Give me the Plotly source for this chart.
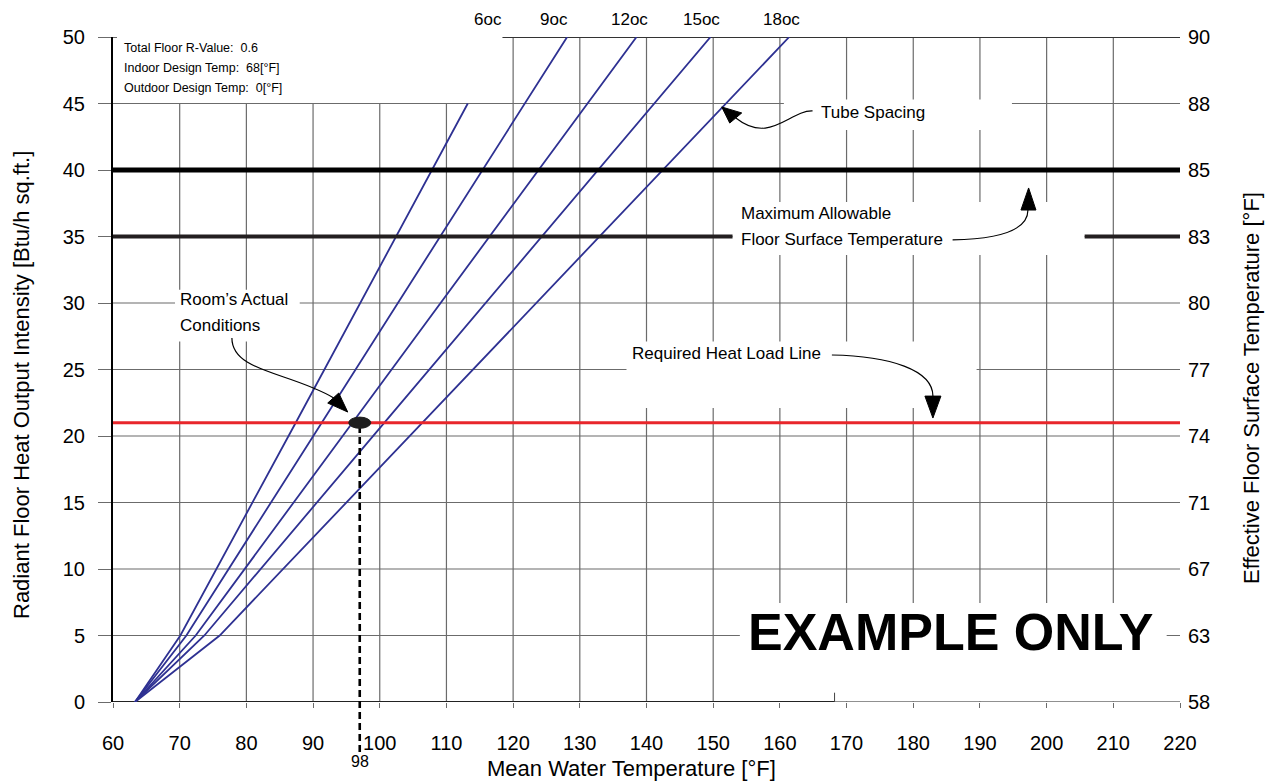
import plotly.graph_objects as go

# ---- chart data -------------------------------------------------------------
SPACINGS = ["6oc", "9oc", "12oc", "15oc", "18oc"]
# mean water temperature [°F]
MWT_AT_0 = [63.3, 63.3, 63.3, 63.3, 63.3]       # heat output 0
MWT_AT_5 = [70.1, 71.0, 72.4, 73.7, 76.0]       # heat output 5
MWT_AT_21 = [87.4, 91.3, 95.9, 100.7, 106.4]    # heat output 21
END_MWT = [113.2, 128.1, 138.5, 149.6, 161.4]   # where the curve stops
END_HEAT = [45, 50, 50, 50, 50]
LABEL_MWT = [116.3, 126.1, 137.5, 148.2, 160.2]  # where the "oc" labels sit

X_TICKS = list(range(60, 221, 10))
Y_TICKS = list(range(0, 51, 5))
RIGHT_TICK_TEXT = ["58", "63", "67", "71", "74", "77", "80", "83", "85", "88", "90"]

REQUIRED_LOAD = 21        # Btu/h sq.ft.
ROOM_MWT = 97.0           # where the dashed line drops
ROOM_MWT_LABEL = "98"
MAX_FLOOR_LOAD = 40       # 85 °F
LIMIT_LOAD = 35           # 83 °F

INFO_LINES = ["Total Floor R-Value:\u00a0 0.6",
              "Indoor Design Temp:\u00a0 68[°F]",
              "Outdoor Design Temp:\u00a0 0[°F]"]

FONT = "Liberation Sans, Arial, sans-serif"
GRID = "#6b6b6b"
BLUE = "#2e3192"
RED = "#e8262b"

# page body adds 8px, so the figure is drawn 8px smaller and offset
L, T, PW, PH = 105, 29, 1067, 665

fig = go.Figure()

shapes = []

def seg(x0, y0, x1, y1, color=GRID, width=1.2, layer="below"):
    shapes.append(dict(type="line", xref="x", yref="y", x0=x0, y0=y0, x1=x1, y1=y1,
                       line=dict(color=color, width=width), layer=layer))

# grid: left columns stop at 45, the rest reach 50; no column at 220
for xv in X_TICKS[1:-1]:
    seg(xv, 0, xv, 45 if xv < 120 else 50)
for yv in Y_TICKS[1:-1]:
    seg(60, yv, 220, yv)
seg(118.4, 50, 220, 50, color="#333", width=2)
seg(60, 50, 60.6, 50, color="#333", width=1.5)

# white label boxes that cut the grid
def mask(x0, y0, x1, y1):
    shapes.append(dict(type="rect", xref="x", yref="y", x0=x0, y0=y0, x1=x1, y1=y1,
                       fillcolor="white", line=dict(width=0), layer="below"))

mask(160.6, 43.0, 194.8, 45.3)     # Tube Spacing
mask(152.9, 33.6, 205.7, 37.6)     # Maximum Allowable ...
mask(69.3, 27.1, 88.0, 31.0)       # Room's Actual Conditions
mask(137.0, 22.1, 189.5, 27.1)     # Required Heat Load Line
mask(154.0, 0.05, 218.0, 7.45)     # EXAMPLE ONLY

# bottom axis line: dark part, then thin grey part
seg(60, 0, 168.2, 0, color="#222", width=2.2)
seg(168.2, 0, 220, 0, color=GRID, width=1.3)
seg(168.2, 0, 168.2, 0.7, color="#444", width=1)

# dashed drop line from the room's point down past the axis
shapes.append(dict(type="line", xref="x", yref="paper", x0=ROOM_MWT, x1=ROOM_MWT,
                   y0=-0.075, y1=REQUIRED_LOAD / 50, layer="above",
                   line=dict(color="black", width=2.6, dash="7px,4px")))
shapes.append(dict(type="circle", xref="x", yref="y",
                   x0=ROOM_MWT - 1.65, x1=ROOM_MWT + 1.65,
                   y0=REQUIRED_LOAD - 0.42, y1=REQUIRED_LOAD + 0.42,
                   fillcolor="#1e1e1e", line=dict(color="#1e1e1e", width=1), layer="above"))

# callout curves + arrowheads
def curve(p0, p1, p2, p3):
    shapes.append(dict(type="path", xref="x", yref="y", layer="above",
                       path=f"M {p0[0]},{p0[1]} C {p1[0]},{p1[1]} {p2[0]},{p2[1]} {p3[0]},{p3[1]}",
                       line=dict(color="black", width=1.2)))

def head(a, b, c):
    shapes.append(dict(type="path", xref="x", yref="y", layer="above",
                       path=f"M {a[0]},{a[1]} L {b[0]},{b[1]} L {c[0]},{c[1]} Z",
                       fillcolor="black", line=dict(color="black", width=1)))

curve((164.9, 44.44), (161.5, 44.51), (158.5, 41.88), (153.4, 43.91))
head((151.28, 44.74), (152.48, 43.53), (154.28, 44.29))

curve((185.9, 34.74), (193.0, 34.81), (197.2, 35.49), (197.2, 36.99))
head((197.3, 38.65), (196.15, 36.99), (198.4, 36.99))

curve((77.83, 27.37), (77.83, 24.81), (86.53, 24.81), (93.1, 22.86))
head((92.2, 22.48), (93.85, 23.23), (95.2, 21.80))

curve((167.8, 26.09), (176.5, 26.02), (182.95, 24.96), (182.95, 23.0))
head((182.95, 21.35), (181.75, 23.0), (184.15, 23.0))

# ---- traces -----------------------------------------------------------------
for i, name in enumerate(SPACINGS):
    fig.add_trace(go.Scatter(
        x=[MWT_AT_0[i], MWT_AT_5[i], MWT_AT_21[i], END_MWT[i]],
        y=[0, 5, REQUIRED_LOAD, END_HEAT[i]],
        mode="lines", line=dict(color=BLUE, width=1.8), name=name, hoverinfo="skip"))

fig.add_trace(go.Scatter(x=[60, 220], y=[MAX_FLOOR_LOAD] * 2, mode="lines",
                         line=dict(color="black", width=5), hoverinfo="skip"))
fig.add_trace(go.Scatter(x=[60, 152.9, None, 205.7, 220],
                         y=[LIMIT_LOAD, LIMIT_LOAD, None, LIMIT_LOAD, LIMIT_LOAD],
                         mode="lines", line=dict(color="#231f20", width=4), hoverinfo="skip"))
fig.add_trace(go.Scatter(x=[60, 220], y=[REQUIRED_LOAD] * 2, mode="lines",
                         line=dict(color=RED, width=3), hoverinfo="skip"))
# anchor for the right-hand axis
fig.add_trace(go.Scatter(x=[60], y=[0], yaxis="y2", mode="markers",
                         marker=dict(opacity=0), hoverinfo="skip"))

# ---- text -------------------------------------------------------------------
ann = []

def txt(x, y, s, size, xanchor="left", yref="y"):
    ann.append(dict(x=x, y=y, xref="x", yref=yref, text=s, showarrow=False,
                    xanchor=xanchor, yanchor="middle", font=dict(size=size, color="black")))

for i, name in enumerate(SPACINGS):
    txt(LABEL_MWT[i], 1.026, name, 17, xanchor="center", yref="paper")

for line, yv in zip(INFO_LINES, [49.21, 47.67, 46.2]):
    txt(61.3, yv, line, 12.5)

txt(165.85, 44.36, "Tube Spacing", 17)
txt(153.85, 36.73, "Maximum Allowable", 17)
txt(153.85, 34.77, "Floor Surface Temperature", 17)
txt(69.75, 30.26, "Room’s Actual", 17)
txt(69.75, 28.31, "Conditions", 17)
txt(137.5, 26.24, "Required Heat Load Line", 17)
ann.append(dict(x=185.65, y=5.26, xref="x", yref="y", text="<b>EXAMPLE ONLY</b>",
                showarrow=False, xanchor="center", yanchor="middle",
                font=dict(size=52, color="black")))
txt(ROOM_MWT, -0.089, ROOM_MWT_LABEL, 16, xanchor="center", yref="paper")

# axis titles (positions in screen pixels of the reference)
def title(px, py, s, angle=0):
    ann.append(dict(x=(px - 8 - L) / PW, y=(T + 8 + PH - py) / PH, xref="paper", yref="paper",
                    text=s, textangle=angle, showarrow=False, xanchor="center",
                    yanchor="middle", font=dict(size=22)))

title(631, 768, "Mean Water Temperature [°F]")
title(21, 385, "Radiant Floor Heat Output Intensity [Btu/h sq.ft.]", -90)
title(1251, 388, "Effective Floor Surface Temperature [°F]", -90)

fig.update_layout(
    width=L + PW + 93, height=T + PH + 81,
    margin=dict(l=L, r=93, t=T, b=81),
    paper_bgcolor="white", plot_bgcolor="white",
    showlegend=False,
    font=dict(family=FONT, color="black"),
    shapes=shapes, annotations=ann,
    xaxis=dict(range=[60, 220], tickvals=X_TICKS, ticks="outside", ticklen=5,
               tickcolor=GRID, tickwidth=1.2, showgrid=False, zeroline=False, showline=False,
               tickfont=dict(size=20), ticklabelstandoff=18),
    yaxis=dict(range=[0, 50], tickvals=Y_TICKS, ticks="outside", ticklen=13,
               tickcolor=GRID, tickwidth=1.2, showgrid=False, zeroline=False,
               showline=True, linecolor="black", linewidth=2,
               tickfont=dict(size=20), ticklabelstandoff=9),
    yaxis2=dict(range=[0, 50], overlaying="y", side="right", tickvals=Y_TICKS,
                ticktext=RIGHT_TICK_TEXT, ticks="", showgrid=False, zeroline=False,
                showline=False, tickfont=dict(size=20), ticklabelstandoff=7),
)

fig.write_html("out.html")
